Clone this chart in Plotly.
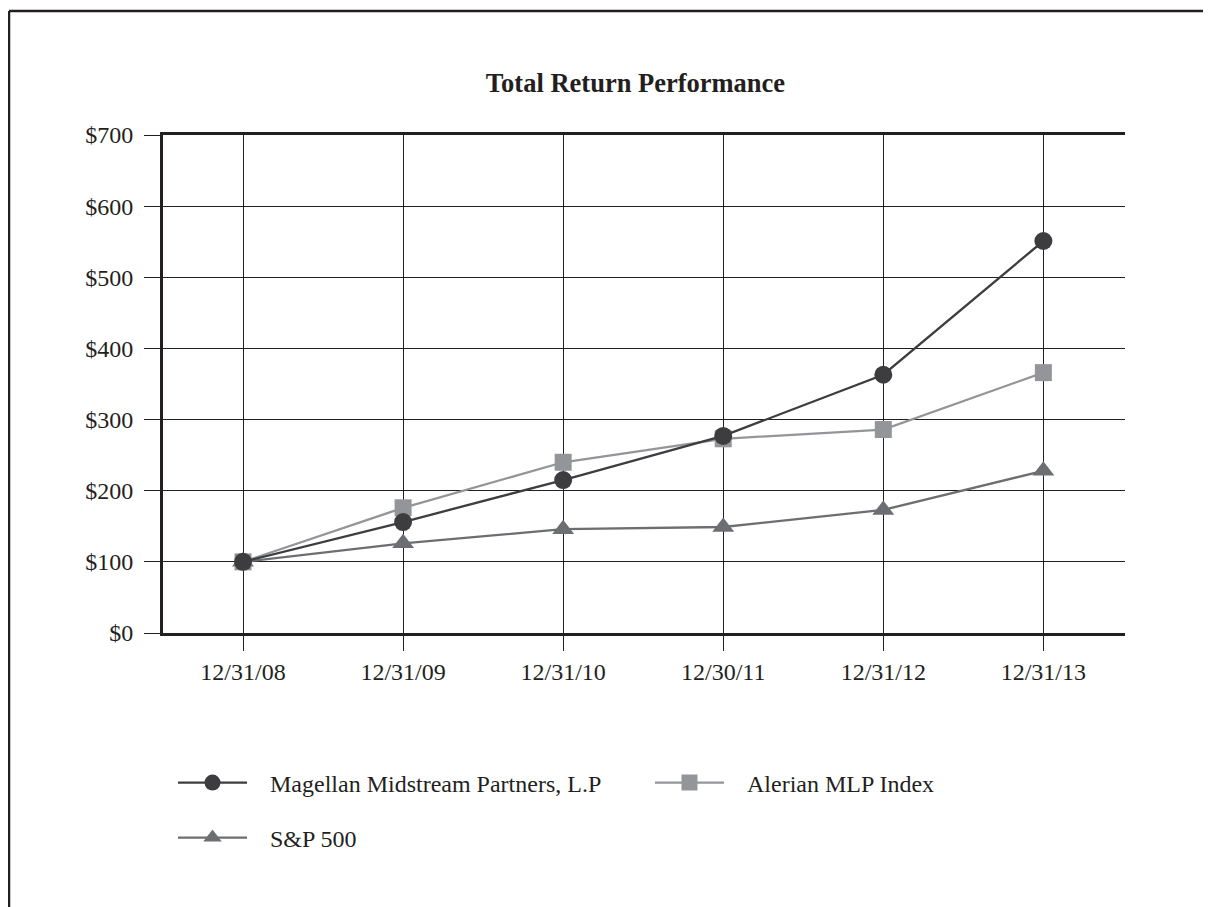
import plotly.graph_objects as go

dates = ["12/31/08", "12/31/09", "12/31/10", "12/30/11", "12/31/12", "12/31/13"]
magellan = [100, 156, 215, 277, 363, 551]
alerian = [100, 176, 240, 273, 286, 366]
sp500 = [100, 126, 146, 149, 173, 228]
y_ticks = [0, 100, 200, 300, 400, 500, 600, 700]
y_labels = ["$" + str(v) for v in y_ticks]

INK = "#231f20"
FONT = "Liberation Serif"
PAD = "\u00a0\u00a0\u00a0"

fig = go.Figure()
fig.add_trace(go.Scatter(
    x=dates, y=sp500, name=PAD + "S&P 500", mode="lines+markers",
    line=dict(color="#6d6e71", width=2.3),
    marker=dict(symbol="triangle-up", size=19, color="#6d6e71"),
    legend="legend2", legendrank=3,
))
fig.add_trace(go.Scatter(
    x=dates, y=alerian, name=PAD + "Alerian MLP Index", mode="lines+markers",
    line=dict(color="#939598", width=2.3),
    marker=dict(symbol="square", size=17, color="#939598"),
    legend="legend", legendrank=2,
))
fig.add_trace(go.Scatter(
    x=dates, y=magellan, name=PAD + "Magellan Midstream Partners, L.P", mode="lines+markers",
    line=dict(color="#3d3d3f", width=2.3),
    marker=dict(symbol="circle", size=18, color="#3d3d3f"),
    legend="legend", legendrank=1,
))

fig.update_layout(
    width=1211, height=907,
    paper_bgcolor="white", plot_bgcolor="white",
    margin=dict(l=155, r=94, t=127, b=282),
    font=dict(family=FONT, size=24, color=INK),
    title=dict(text="<b>Total Return Performance</b>", xref="container", x=627.5 / 1211,
               xanchor="center", yref="container", y=1 - 75 / 907, yanchor="middle",
               font=dict(size=26.5, family=FONT, color=INK)),
    showlegend=True,
    legend=dict(orientation="h", xref="container", yref="container",
                x=165 / 1211, y=1 - 775 / 907, xanchor="left", yanchor="middle",
                itemwidth=69, entrywidth=393, traceorder="normal",
                font=dict(size=24, family=FONT, color=INK), bgcolor="rgba(0,0,0,0)"),
    legend2=dict(orientation="h", xref="container", yref="container",
                 x=165 / 1211, y=1 - 830 / 907, xanchor="left", yanchor="middle",
                 itemwidth=69,
                 font=dict(size=24, family=FONT, color=INK), bgcolor="rgba(0,0,0,0)"),
    xaxis=dict(type="category", range=[-0.5, 5.51], showgrid=True, gridcolor=INK, gridwidth=1.3,
               ticks="outside", ticklen=15, tickwidth=1.3, tickcolor=INK,
               showline=True, linecolor=INK, linewidth=3, mirror=True,
               tickfont=dict(size=24, family=FONT, color=INK), zeroline=False),
    yaxis=dict(range=[0, 700], tickvals=y_ticks, ticktext=y_labels, showgrid=True,
               gridcolor=INK, gridwidth=1.3, ticks="outside", ticklen=16, tickwidth=1.3,
               tickcolor=INK, showline=True, linecolor=INK, linewidth=3,
               tickfont=dict(size=24, family=FONT, color=INK), zeroline=False, ticklabelstandoff=6),
    shapes=[
        dict(type="line", xref="paper", yref="paper", x0=(1 - 155) / 962, x1=1.3,
             y0=1 + (127 - 3) / 498, y1=1 + (127 - 3) / 498, line=dict(color=INK, width=2.5)),
        dict(type="line", xref="paper", yref="paper", x0=(1 - 155) / 962, x1=(1 - 155) / 962,
             y0=1 + (127 - 3) / 498, y1=-0.7, line=dict(color=INK, width=2.5)),
    ],
)

fig.write_html("out.html")
